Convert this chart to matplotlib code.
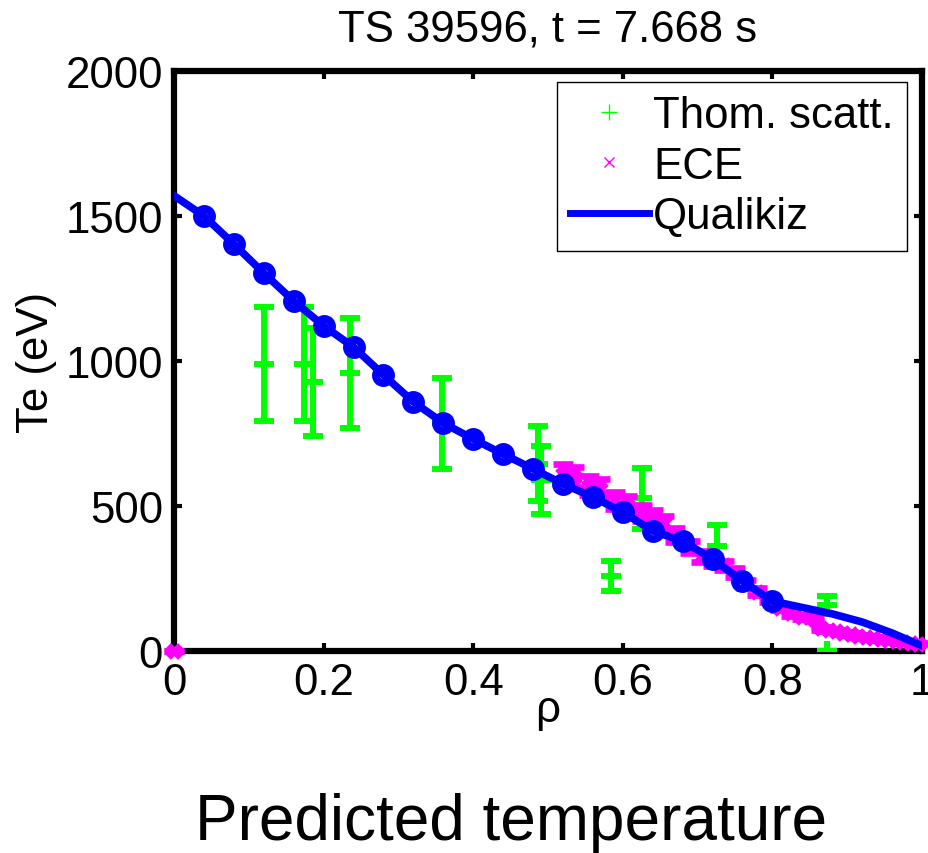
import matplotlib
matplotlib.use("Agg")
import matplotlib.pyplot as plt
from matplotlib.lines import Line2D

plt.rcParams['font.family'] = ['Liberation Sans', 'DejaVu Sans']

# Thomson scattering points (rho, Te, error)
ts_rho = [0.12, 0.174, 0.186, 0.235, 0.358, 0.487, 0.49, 0.584, 0.626, 0.726, 0.873, 0.873]
ts_te = [990, 990, 928, 958, 786, 646, 590, 259, 526, 362, 159, 0]
ts_err = [196, 196, 187, 190, 157, 130, 118, 52, 105, 72, 32, 0]

# ECE channels
ece_rho = [0.0, 0.52, 0.535, 0.555, 0.57, 0.59, 0.605, 0.625, 0.64, 0.655, 0.67,
           0.69, 0.705, 0.72, 0.735, 0.75, 0.765, 0.78, 0.795, 0.81, 0.825, 0.84,
           0.855, 0.865, 0.875, 0.885, 0.895, 0.905, 0.915, 0.925, 0.935, 0.945,
           0.955, 0.965, 0.975, 0.985, 0.995]
ece_te = [0, 610, 600, 570, 560, 520, 505, 475, 460, 440, 400,
          360, 325, 310, 295, 270, 232, 205, 180, 150, 130, 117,
          110, 78, 72, 68, 62, 58, 52, 48, 44, 40,
          37, 33, 30, 28, 25]
ece_err = [0, 35, 34, 33, 32, 30, 29, 28, 27, 26, 24,
           21, 19, 18, 17, 16, 14, 12, 11, 9, 8, 7,
           7, 5, 4, 4, 4, 3, 3, 3, 3, 2,
           2, 2, 2, 2, 2]

# Qualikiz prediction
qk_rho = [0.0, 0.04, 0.08, 0.12, 0.16, 0.2, 0.24, 0.28, 0.32, 0.36, 0.4, 0.44,
          0.48, 0.52, 0.56, 0.6, 0.64, 0.68, 0.72, 0.76, 0.8,
          0.84, 0.88, 0.92, 0.96, 1.0]
qk_te = [1570, 1500, 1403, 1303, 1207, 1121, 1048, 952, 859, 786, 731, 679,
         628, 576, 531, 479, 414, 379, 317, 241, 172,
         150, 128, 100, 62, 18]

green = '#00ff00'
magenta = '#ff00ff'
blue = '#0000ff'
fs = 31.5

fig = plt.figure(figsize=(9.29, 8.54), dpi=100)
ax = fig.add_axes([174 / 929, 202 / 854, 748 / 929, 580 / 854])

ax.errorbar(ts_rho, ts_te, yerr=ts_err, fmt='+', color=green, ms=14, mew=4.3,
            elinewidth=4.3, capsize=7, capthick=4.3, zorder=3)
ax.errorbar(ece_rho, ece_te, yerr=ece_err, fmt='x', color=magenta, ms=8, mew=4.8,
            elinewidth=4.5, capsize=7, capthick=4.5, zorder=4, clip_on=False)
ax.plot(qk_rho, qk_te, '-', color=blue, lw=5.5, zorder=5, solid_capstyle='round')
ax.plot(qk_rho[1:21], qk_te[1:21], 'o', color=blue, mfc='none', ms=11, mew=5.5, zorder=6)

ax.set_xlim(0, 1)
ax.set_ylim(0, 2000)
ax.set_xticks([0, 0.2, 0.4, 0.6, 0.8, 1.0])
ax.set_xticklabels(['0', '0.2', '0.4', '0.6', '0.8', '1'])
ax.set_yticks([0, 500, 1000, 1500, 2000])
ax.tick_params(direction='in', length=6, width=3, labelsize=fs, pad=8,
               top=True, right=True)
for s in ax.spines.values():
    s.set_linewidth(4.5)

ax.set_xlabel('ρ', fontsize=fs, labelpad=-10)
ax.set_ylabel('Te (eV)', fontsize=fs, labelpad=6)
ax.set_title('TS 39596, t = 7.668 s', fontsize=fs, pad=22)

handles = [
    Line2D([], [], ls='none', marker='+', color=green, ms=12, mew=1),
    Line2D([], [], ls='none', marker='x', color=magenta, ms=7, mew=1),
    Line2D([], [], color=blue, lw=5),
]
leg = ax.legend(handles, ['Thom. scatt.', 'ECE', 'Qualikiz'], fontsize=fs,
                loc='upper right', bbox_to_anchor=(907 / 929, 1 - 83 / 854),
                bbox_transform=fig.transFigure, fancybox=False, framealpha=1,
                edgecolor='black', handlelength=1.8, handletextpad=0.1,
                labelspacing=0.22, borderpad=0.3, borderaxespad=0)
leg.get_frame().set_linewidth(1)

fig.text(0.55, 14 / 854, 'Predicted temperature', fontsize=46, ha='center', va='baseline')

fig.savefig('out.png', dpi=100)
